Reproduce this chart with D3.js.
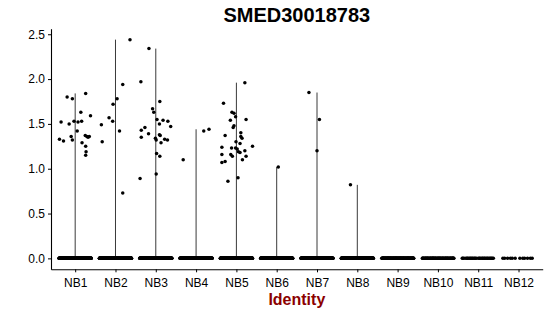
<!DOCTYPE html>
<html>
<head>
<meta charset="utf-8">
<script src="https://cdn.jsdelivr.net/npm/d3@7"></script>
<style>
  body { margin: 0; background: white; }
  #container { width: 550px; height: 316px; }
</style>
</head>
<body>
<div id="container"></div>
<script>
const title = "SMED30018783";
const xTitle = "Identity";
const categories = ["NB1", "NB2", "NB3", "NB4", "NB5", "NB6", "NB7", "NB8", "NB9", "NB10", "NB11", "NB12"];
const yTicks = [0, 0.5, 1, 1.5, 2, 2.5];

// cells with zero expression per identity (drawn as the jittered band at 0)
const zeroCounts = [300, 300, 300, 300, 300, 260, 260, 220, 130, 70, 32, 12];

// expressed cells: [value, jitter in category units]
const nb1Points = [
  [1.80, -0.20], [1.78, -0.07], [1.84, 0.26], [1.63, 0.14], [1.59, 0.38], [1.52, -0.35],
  [1.50, -0.15], [1.53, -0.03], [1.52, 0.07], [1.53, 0.16], [1.42, 0.05], [1.33, -0.39],
  [1.31, -0.29], [1.36, -0.10], [1.32, -0.07], [1.37, 0.25], [1.36, 0.29], [1.35, 0.32],
  [1.36, 0.35], [1.29, 0.17], [1.25, 0.26], [1.19, 0.27], [1.15, 0.26]
];
const nb2Points = [
  [2.44, 0.36], [1.94, 0.18], [1.78, 0.04], [1.72, -0.06], [1.57, -0.16], [1.53, -0.07],
  [1.42, 0.10], [1.49, -0.35], [1.30, -0.33], [0.73, 0.18]
];
const nb3Points = [
  [2.34, -0.17], [1.97, -0.37], [1.75, 0.10], [1.67, -0.08], [1.63, -0.05], [1.55, 0.03],
  [1.54, 0.18], [1.53, 0.30], [1.50, 0.09], [1.47, 0.37], [1.46, -0.27], [1.43, -0.36],
  [1.39, -0.18], [1.38, 0.09], [1.37, 0.11], [1.35, -0.36], [1.34, -0.01], [1.32, 0.01],
  [1.33, 0.22], [1.32, 0.29], [1.29, 0.13], [1.17, 0.02], [1.14, 0.10], [0.94, 0.01],
  [0.89, -0.39]
];
const nb4Points = [[1.10, -0.32], [1.42, 0.19], [1.44, 0.32]];
const nb5Points = [
  [1.96, 0.21], [1.73, -0.32], [1.63, -0.11], [1.62, -0.06], [1.58, -0.02], [1.55, 0.24],
  [1.54, -0.15], [1.48, -0.06], [1.46, -0.08], [1.40, 0.11], [1.37, -0.28], [1.36, 0.11],
  [1.34, 0.14], [1.30, -0.01], [1.28, 0.09], [1.25, 0.40], [1.24, -0.36], [1.23, -0.12],
  [1.23, -0.02], [1.22, 0.02], [1.20, 0.21], [1.19, 0.05], [1.18, 0.09], [1.16, -0.36],
  [1.16, -0.14], [1.14, -0.10], [1.14, 0.24], [1.10, 0.15], [1.07, -0.36], [1.08, -0.28],
  [0.86, -0.21], [0.90, 0.04]
];
const nb6Points = [[1.02, 0.04]];
const nb7Points = [[1.85, -0.20], [1.55, 0.06], [1.20, 0.00]];
const nb8Points = [[0.82, -0.17]];

const expressed = [nb1Points, nb2Points, nb3Points, nb4Points, nb5Points,
  nb6Points, nb7Points, nb8Points, [], [], [], []];

function draw() {
  const margin = { top: 28.7, right: 7.3, bottom: 46.7, left: 51 };
  const width = 550 - margin.left - margin.right;
  const height = 316 - margin.top - margin.bottom;

  const svg = d3.select("#container")
    .append("svg")
    .attr("width", 550)
    .attr("height", 316)
    .style("font-family", "'Liberation Sans', Arial, sans-serif");

  const g = svg.append("g")
    .attr("transform", `translate(${margin.left},${margin.top})`);

  // build one row per cell
  const cells = [];
  categories.forEach((cat, ci) => {
    for (let i = 0; i < zeroCounts[ci]; i++) {
      // spread zero cells evenly over the jitter width
      const j = ((i * 0.6180339887 + ci * 0.37) % 1) * 0.8 - 0.4;
      cells.push({ cat, value: 0, jitter: j });
    }
    expressed[ci].forEach(([value, jitter]) => cells.push({ cat, value, jitter }));
  });

  const x = d3.scalePoint()
    .domain(categories)
    .range([0, width])
    .padding(0.6);
  const step = x.step();

  const yMax = d3.max(cells, d => d.value);
  const pad = yMax * 0.05;
  const y = d3.scaleLinear()
    .domain([-pad, yMax + pad])
    .range([height, 0]);

  // violins (collapse to a line from 0 to the max)
  categories.forEach((cat, ci) => {
    const top = d3.max(expressed[ci], d => d[0]);
    if (!top) return;
    g.append("line")
      .attr("x1", x(cat))
      .attr("x2", x(cat))
      .attr("y1", y(0))
      .attr("y2", y(top))
      .attr("stroke", "#3a3a3a")
      .attr("stroke-width", 1);
  });

  // points
  g.append("g")
    .selectAll("circle")
    .data(cells)
    .join("circle")
    .attr("cx", d => x(d.cat) + d.jitter * step)
    .attr("cy", d => y(d.value))
    .attr("r", 1.75)
    .attr("fill", "black");

  // Axes
  const xAxis = g.append("g")
    .attr("transform", `translate(0,${height})`)
    .call(d3.axisBottom(x).tickSize(3).tickSizeOuter(0));
  xAxis.select(".domain").attr("stroke-width", 1.1);
  xAxis.selectAll("text")
    .attr("fill", "black")
    .attr("font-size", "12px")
    .attr("dy", "0.95em")
    .attr("font-family", "'Liberation Sans', Arial, sans-serif");

  const yAxis = g.append("g")
    .call(d3.axisLeft(y).tickValues(yTicks).tickFormat(d3.format(".1f")).tickSize(3).tickSizeOuter(0));
  yAxis.select(".domain").attr("stroke-width", 1.1);
  yAxis.selectAll("text")
    .attr("fill", "black")
    .attr("font-size", "12px")
    .attr("font-family", "'Liberation Sans', Arial, sans-serif");

  // Title
  svg.append("text")
    .attr("x", margin.left + width / 2)
    .attr("y", 22)
    .attr("text-anchor", "middle")
    .style("font-size", "20px")
    .style("font-weight", "bold")
    .style("fill", "black")
    .text(title);

  svg.append("text")
    .attr("x", margin.left + width / 2)
    .attr("y", 305)
    .attr("text-anchor", "middle")
    .style("font-size", "16px")
    .style("font-weight", "bold")
    .style("fill", "#8b0000")
    .text(xTitle);
}

draw();
</script>
</body>
</html>
